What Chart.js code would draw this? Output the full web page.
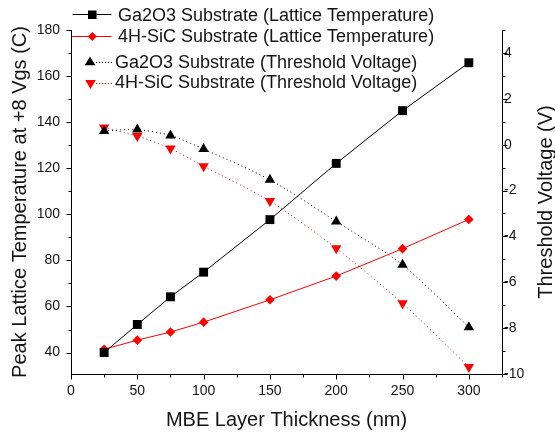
<!DOCTYPE html>
<html><head><meta charset="utf-8">
<script src="https://cdn.jsdelivr.net/npm/chart.js@4.4.1/dist/chart.umd.min.js"></script>
<style>html,body{margin:0;padding:0;background:#fff;}#wrap{width:555px;height:433px;position:relative;}canvas{display:block;}</style>
</head><body><div id="wrap"><canvas id="c" width="555" height="433"></canvas></div>
<script>
// ---- data ----
const thickness = [25, 50, 75, 100, 150, 200, 250, 300];
const ga2o3Temp = [40.0, 52.2, 64.2, 74.9, 97.7, 122.1, 145.0, 165.8];
const sicTemp   = [41.4, 45.4, 48.9, 53.2, 62.9, 73.2, 85.1, 97.8];
const ga2o3Vth  = [0.60, 0.66, 0.40, -0.19, -1.53, -3.35, -5.24, -7.96];
const sicVth    = [0.75, 0.38, -0.17, -0.94, -2.46, -4.52, -6.92, -9.69];
const xTicks    = [0, 50, 100, 150, 200, 250, 300];
const xMinor    = [25, 75, 125, 175, 225, 275, 325];
const tempTicks = [40, 60, 80, 100, 120, 140, 160, 180];
const tempMinor = [50, 70, 90, 110, 130, 150, 170];
const vthTicks  = [-10, -8, -6, -4, -2, 0, 2, 4];
const vthMinor  = [-9, -7, -5, -3, -1, 1, 3, 5];
const seriesLabels = [
  'Ga2O3 Substrate (Lattice Temperature)',
  '4H-SiC Substrate (Lattice Temperature)',
  'Ga2O3 Substrate (Threshold Voltage)',
  '4H-SiC Substrate (Threshold Voltage)'
];
const xTitle  = 'MBE Layer Thickness (nm)';
const yTitle  = 'Peak Lattice Temperature at +8 Vgs (C)';
const y2Title = 'Threshold Voltage (V)';

const FONT = '"Liberation Sans", Arial, sans-serif';
const TXT = '#141414';
const pts = (xs, ys) => xs.map((x, i) => ({x: x, y: ys[i]}));

const decor = {
  id: 'decor',
  afterDraw(chart) {
    const ctx = chart.ctx;
    const sx = chart.scales.x, sy = chart.scales.y, sy2 = chart.scales.y2;
    ctx.save();
    ctx.strokeStyle = '#000';
    ctx.lineWidth = 1;
    // tick marks (major + minor), outward
    const yb = Math.round(chart.chartArea.bottom) + 0.5;
    const xl = Math.round(chart.chartArea.left) + 0.5;
    const xr = Math.round(chart.chartArea.right) + 0.5;
    ctx.beginPath();
    const xt = (arr, len) => arr.forEach(v => { if (v > sx.max) return; const p = Math.round(sx.getPixelForValue(v)) + 0.5; ctx.moveTo(p, yb - 0.5); ctx.lineTo(p, yb + len); });
    xt(xTicks, 5); xt(xMinor, 3);
    const yt = (arr, len) => arr.forEach(v => { const p = Math.round(sy.getPixelForValue(v)) + 0.5; ctx.moveTo(xl + 0.5, p); ctx.lineTo(xl - len, p); });
    yt(tempTicks, 5); yt(tempMinor, 3);
    const y2t = (arr, len) => arr.forEach(v => { if (v > sy2.max) return; const p = Math.round(sy2.getPixelForValue(v)) + 0.5; ctx.moveTo(xr - 0.5, p); ctx.lineTo(xr + len, p); });
    y2t(vthTicks, 5); y2t(vthMinor, 3);
    ctx.stroke();

    // axis titles
    ctx.fillStyle = TXT;
    ctx.textBaseline = 'alphabetic';
    ctx.textAlign = 'center';
    ctx.font = '20px ' + FONT;
    ctx.fillText(xTitle, (chart.chartArea.left + chart.chartArea.right) / 2, 426);
    const cy = (chart.chartArea.top + chart.chartArea.bottom) / 2;
    ctx.save(); ctx.translate(26, cy); ctx.rotate(-Math.PI / 2); ctx.fillText(yTitle, 0, 0); ctx.restore();
    ctx.save(); ctx.translate(552, cy); ctx.rotate(-Math.PI / 2); ctx.fillText(y2Title, 0, 0); ctx.restore();

    // legend
    ctx.font = '18px ' + FONT;
    ctx.textAlign = 'left';
    // item 1
    ctx.strokeStyle = '#000'; ctx.beginPath(); ctx.moveTo(72.5, 14.5); ctx.lineTo(111.5, 14.5); ctx.stroke();
    ctx.fillStyle = '#000'; ctx.fillRect(88, 10.5, 8.5, 8.5);
    ctx.fillStyle = TXT; ctx.fillText(seriesLabels[0], 118, 20.7);
    // item 2
    ctx.strokeStyle = '#ff0000'; ctx.beginPath(); ctx.moveTo(71.5, 36.5); ctx.lineTo(111.5, 36.5); ctx.stroke();
    ctx.fillStyle = '#ff0000'; ctx.beginPath(); ctx.moveTo(92.3, 32); ctx.lineTo(96.8, 36.5); ctx.lineTo(92.3, 41); ctx.lineTo(87.8, 36.5); ctx.closePath(); ctx.fill();
    ctx.fillStyle = TXT; ctx.fillText(seriesLabels[1], 118, 41.7);
    // item 3
    ctx.setLineDash([1, 2]);
    ctx.strokeStyle = '#000'; ctx.beginPath(); ctx.moveTo(96, 62.5); ctx.lineTo(112, 62.5); ctx.stroke();
    ctx.setLineDash([]);
    ctx.fillStyle = '#000'; ctx.beginPath(); ctx.moveTo(90, 56.5); ctx.lineTo(95.3, 65.3); ctx.lineTo(84.7, 65.3); ctx.closePath(); ctx.fill();
    ctx.fillStyle = TXT; ctx.fillText(seriesLabels[2], 115, 68.3);
    // item 4
    ctx.setLineDash([1, 2]);
    ctx.strokeStyle = '#ff0000'; ctx.beginPath(); ctx.moveTo(96, 83.5); ctx.lineTo(112, 83.5); ctx.stroke();
    ctx.setLineDash([]);
    ctx.fillStyle = '#ff0000'; ctx.beginPath(); ctx.moveTo(85.2, 80); ctx.lineTo(95.8, 80); ctx.lineTo(90.5, 89); ctx.closePath(); ctx.fill();
    ctx.fillStyle = TXT; ctx.fillText(seriesLabels[3], 115, 88.3);
    ctx.restore();
  }
};

const tickFont = {family: FONT, size: 14};
new Chart(document.getElementById('c'), {
  type: 'line',
  data: {
    datasets: [
      {label: seriesLabels[0], data: pts(thickness, ga2o3Temp), yAxisID: 'y', borderColor: '#000', backgroundColor: '#000', borderWidth: 1, pointStyle: 'rect', pointRadius: 6.3, pointBorderWidth: 0, pointBackgroundColor: '#000', tension: 0},
      {label: seriesLabels[1], data: pts(thickness, sicTemp), yAxisID: 'y', borderColor: '#ff0000', backgroundColor: '#ff0000', borderWidth: 1, pointStyle: 'rectRot', pointRadius: 4.8, pointBorderWidth: 0, pointBackgroundColor: '#ff0000', tension: 0},
      {label: seriesLabels[2], data: pts(thickness, ga2o3Vth), yAxisID: 'y2', borderColor: '#000', backgroundColor: '#000', borderWidth: 1, borderDash: [1, 3], pointStyle: 'triangle', pointRadius: 6, pointBorderWidth: 0, pointBackgroundColor: '#000', tension: 0.25},
      {label: seriesLabels[3], data: pts(thickness, sicVth), yAxisID: 'y2', borderColor: '#ff0000', backgroundColor: '#ff0000', borderWidth: 1, borderDash: [1, 3], pointStyle: 'triangle', pointRotation: 180, pointRadius: 6, pointBorderWidth: 0, pointBackgroundColor: '#ff0000', tension: 0.25}
    ]
  },
  options: {
    responsive: false,
    animation: false,
    devicePixelRatio: 1,
    layout: {padding: {top: 30, left: 0, right: 0, bottom: 0}},
    plugins: {legend: {display: false}, tooltip: {enabled: false}, title: {display: false}},
    scales: {
      x: {
        type: 'linear', position: 'bottom', min: 0, max: 325,
        afterBuildTicks: s => { s.ticks = xTicks.map(v => ({value: v})); },
        afterFit: s => { s.height = 59; },
        grid: {display: false, drawTicks: false},
        border: {display: true, color: '#000', width: 1},
        ticks: {font: tickFont, color: TXT, padding: 9, maxRotation: 0, autoSkip: false}
      },
      y: {
        type: 'linear', position: 'left', min: 30.7, max: 180,
        afterBuildTicks: s => { s.ticks = tempTicks.map(v => ({value: v})); },
        afterFit: s => { s.width = 71; },
        grid: {display: false, drawTicks: false},
        border: {display: true, color: '#000', width: 1},
        ticks: {font: tickFont, color: TXT, padding: 11, autoSkip: false}
      },
      y2: {
        type: 'linear', position: 'right', min: -10, max: 5,
        afterBuildTicks: s => { s.ticks = vthTicks.map(v => ({value: v})); },
        afterFit: s => { s.width = 53; },
        grid: {display: false, drawTicks: false},
        border: {display: true, color: '#000', width: 1},
        ticks: {font: tickFont, color: TXT, padding: 2, autoSkip: false, align: 'center'}
      }
    }
  },
  plugins: [decor]
});
</script>
</body></html>
